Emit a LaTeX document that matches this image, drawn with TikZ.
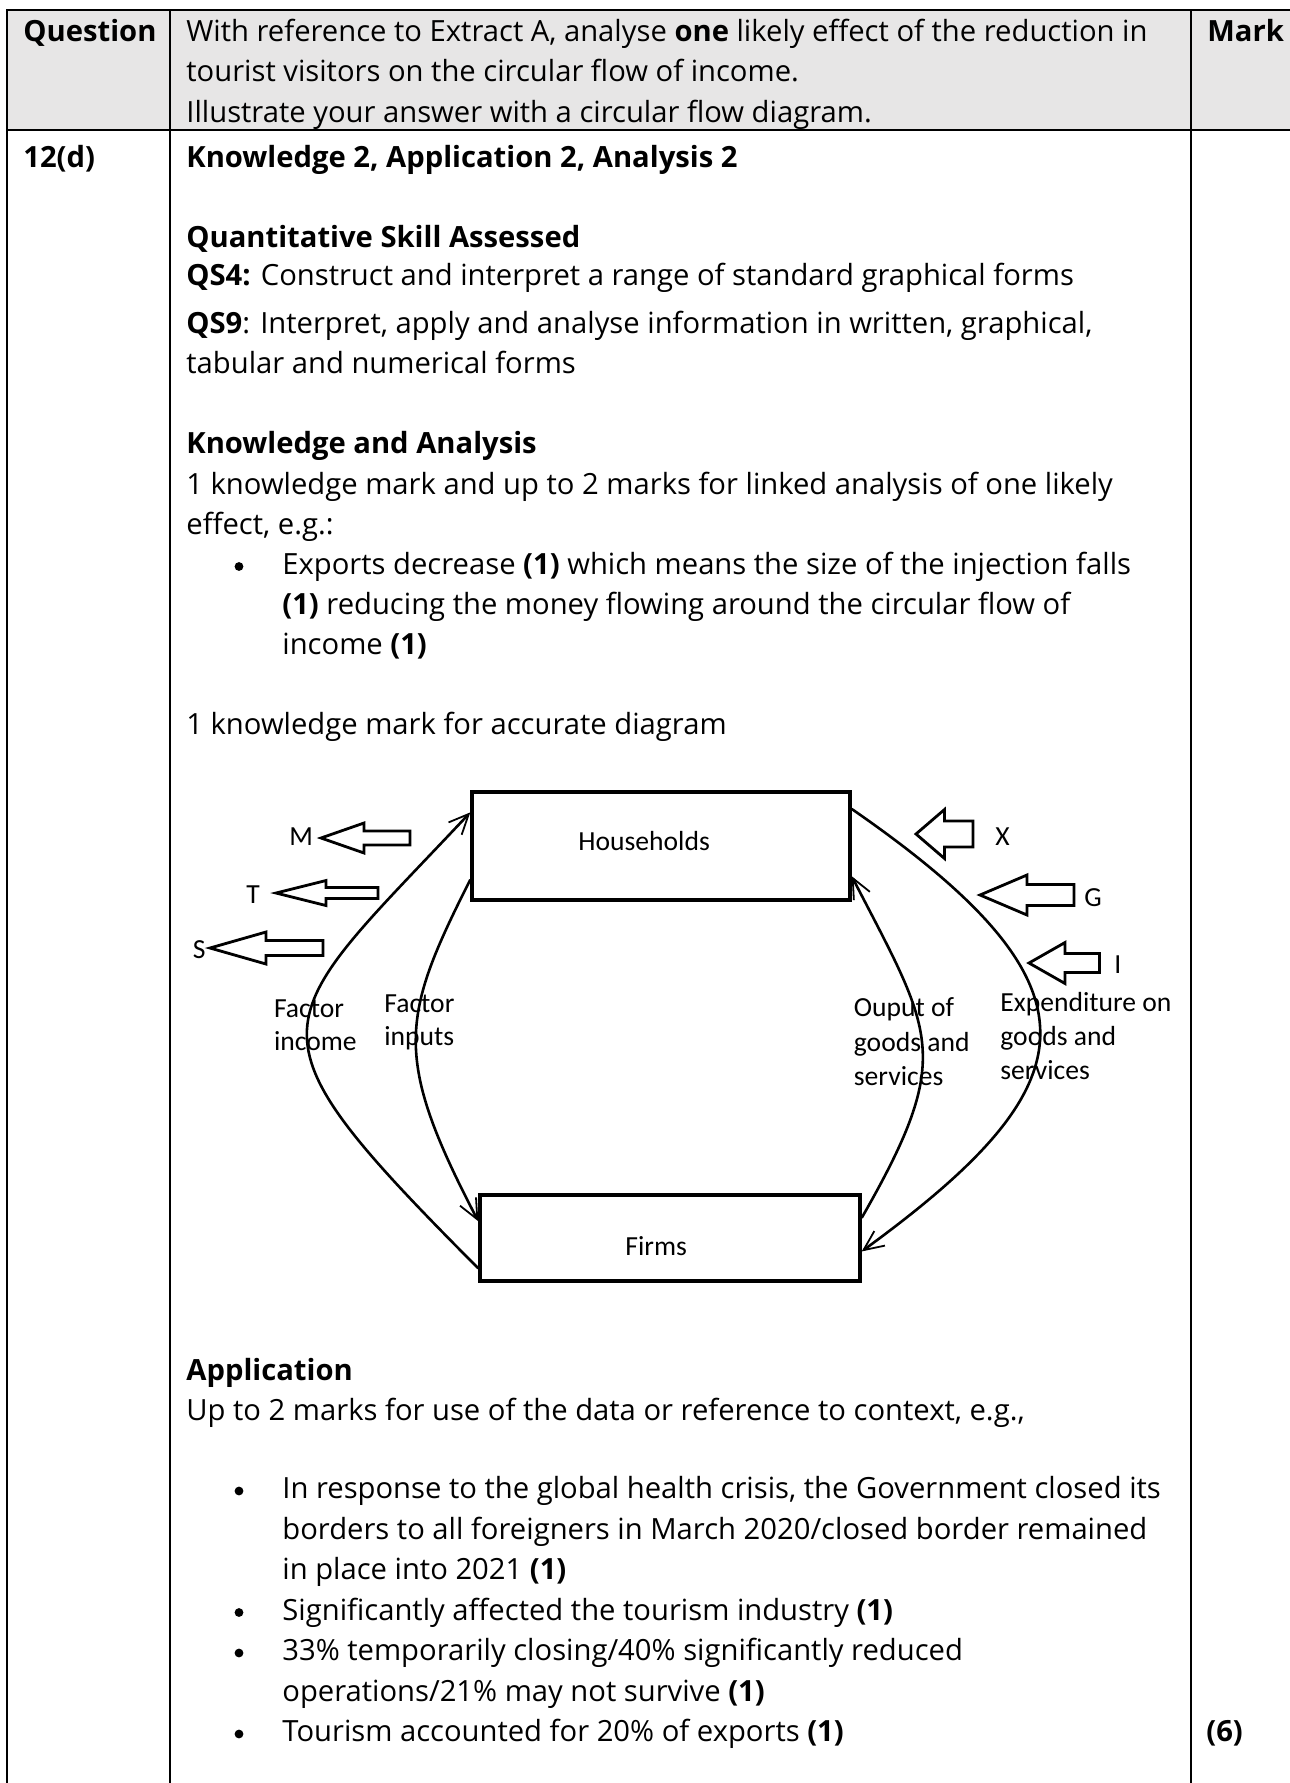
\documentclass[tikz,border=0pt]{standalone}
\usepackage{fontspec}
\setmainfont{Open Sans}
\newfontfamily\diagfont{Carlito}
\usetikzlibrary{arrows.meta}
\definecolor{hdrgray}{RGB}{231,230,230}
\newcommand\bodyfont{\fontsize{14.6}{20.25}\selectfont}
\newcommand\diagsize{\diagfont\fontsize{13.8}{17}\selectfont}

\begin{document}
\begin{tikzpicture}[x=0.5pt, y=-0.5pt,
  txt/.style={anchor=base west, inner sep=0pt, font=\bodyfont},
  lbl/.style={anchor=base west, inner sep=0pt, font=\diagsize},
  dot/.style={fill, circle, inner sep=0pt, minimum size=4.4pt},
  sector/.style={draw, line width=1.7pt, inner sep=0pt},
  flow/.style={line width=1.3pt, -{Straight Barb[length=10pt, width=9pt, line width=0.9pt]}},
  blockarr/.style={draw, line width=1.4pt, fill=white, line join=miter},
  rule/.style={line width=1pt}]
  \useasboundingbox (0,0) rectangle (1290,1783);
  % table frame
  \fill[hdrgray] (7,10) rectangle (1290,130);
  \draw[rule] (7,1783) -- (7,10) -- (1290,10);
  \draw[rule] (7,130) -- (1290,130);
  \draw[rule] (170,10) -- (170,1783);
  \draw[rule] (1191,10) -- (1191,1783);
  % header row
  \node[txt] (qhead) at (23,41) {\textbf{Question}};
  \node[txt] (qline1) at (186,41) {With reference to Extract A, analyse \textbf{one} likely effect of the reduction in};
  \node[txt] (qline2) at (186,81.5) {tourist visitors on the circular flow of income.};
  \node[txt] (qline3) at (186,122) {Illustrate your answer with a circular flow diagram.};
  \node[txt] (mhead) at (1207,41) {\textbf{Mark}};
  % answer row
  \node[txt] (qnum) at (23,167) {\textbf{12(d)}};
  \node[txt] (ka1) at (186,167) {\textbf{Knowledge 2, Application 2, Analysis 2}};
  \node[txt] (ka2) at (186,247) {\textbf{Quantitative Skill Assessed}};
  \node[txt] (ka3) at (186,285) {\textbf{QS4:} Construct and interpret a range of standard graphical forms};
  \node[txt] (ka4) at (186,333) {\textbf{QS9}: Interpret, apply and analyse information in written, graphical,};
  \node[txt] (ka5) at (186,373) {tabular and numerical forms};
  \node[txt] (ka6) at (186,453) {\textbf{Knowledge and Analysis}};
  \node[txt] (ka7) at (186,494) {1 knowledge mark and up to 2 marks for linked analysis of one likely};
  \node[txt] (ka8) at (186,534) {effect, e.g.:};
  \node[dot] (kb1) at (239,566.5) {};
  \node[txt] (ka9) at (282,574) {Exports decrease \textbf{(1)} which means the size of the injection falls};
  \node[txt] (ka10) at (282,614) {\textbf{(1)} reducing the money flowing around the circular flow of};
  \node[txt] (ka11) at (282,654) {income \textbf{(1)}};
  \node[txt] (ka12) at (186,734) {1 knowledge mark for accurate diagram};
  % circular flow diagram
  \node[sector, minimum width=189pt, minimum height=54pt] (hh) at (661,846) {};
  \node[sector, minimum width=190pt, minimum height=43pt] (firms) at (670,1238) {};
  \node[lbl] (hhtext) at (578,850) {Households};
  \node[lbl] (firmstext) at (625,1255) {Firms};
  \draw[flow] (firms.189) .. controls (235,1024) and (268,1028) .. (hh.170);
  \draw[flow] (hh.190) .. controls (401,1017) and (392,1056) .. (firms.175);
  \draw[flow] (firms.6) .. controls (955,1055) and (933,1034) .. (hh.-9);
  \draw[flow] (hh.11) .. controls (1112,989) and (1090,1085) .. (firms.-4);
  \node[lbl] (fincome1) at (273.6,1017) {Factor};
  \node[lbl] (fincome2) at (273.6,1050) {income};
  \node[lbl] (finputs1) at (384,1012) {Factor};
  \node[lbl] (finputs2) at (384,1045) {inputs};
  \node[lbl] (output1) at (853.5,1016.5) {Ouput of};
  \node[lbl] (output2) at (853.5,1051.5) {goods and};
  \node[lbl] (output3) at (853.5,1085) {services};
  \node[lbl] (spend1) at (1000,1011.5) {Expenditure on};
  \node[lbl] (spend2) at (1000,1045) {goods and};
  \node[lbl] (spend3) at (1000,1079) {services};
  % withdrawals
  \draw[blockarr] (321,838) -- (364,823) -- (364,831) -- (410,831) -- (410,845) -- (364,845) -- (364,853) -- cycle;
  \draw[blockarr] (276,893) -- (326,880.5) -- (326,887.5) -- (378,887.5) -- (378,898.5) -- (326,898.5) -- (326,905.5) -- cycle;
  \draw[blockarr] (210,948) -- (266,932) -- (266,940.5) -- (323,940.5) -- (323,955.5) -- (266,955.5) -- (266,964) -- cycle;
  \node[lbl] (mlab) at (289,845) {M};
  \node[lbl] (tlab) at (246,903) {T};
  \node[lbl] (slab) at (192.5,958) {S};
  % injections
  \draw[blockarr] (916,834) -- (944.5,809.5) -- (944.5,821) -- (973,821) -- (973,847) -- (944.5,847) -- (944.5,858.5) -- cycle;
  \draw[blockarr] (980,895) -- (1027,875) -- (1027,884.5) -- (1074,884.5) -- (1074,905.5) -- (1027,905.5) -- (1027,915) -- cycle;
  \draw[blockarr] (1029,963) -- (1065,942.5) -- (1065,953.5) -- (1099.5,953.5) -- (1099.5,972.5) -- (1065,972.5) -- (1065,983.5) -- cycle;
  \node[lbl] (xlab) at (995,845) {X};
  \node[lbl] (glab) at (1084,906.5) {G};
  \node[lbl] (ilab) at (1114,973) {I};
  % application
  \node[txt] (ap1) at (186,1380) {\textbf{Application}};
  \node[txt] (ap2) at (186,1420) {Up to 2 marks for use of the data or reference to context, e.g.,};
  \node[dot] (apb1) at (239,1491) {};
  \node[txt] (ap3) at (282,1498.5) {In response to the global health crisis, the Government closed its};
  \node[txt] (ap4) at (282,1539) {borders to all foreigners in March 2020/closed border remained};
  \node[txt] (ap5) at (282,1579.5) {in place into 2021 \textbf{(1)}};
  \node[dot] (apb2) at (239,1612.5) {};
  \node[txt] (ap6) at (282,1620) {Significantly affected the tourism industry \textbf{(1)}};
  \node[dot] (apb3) at (239,1653) {};
  \node[txt] (ap7) at (282,1660.5) {33\% temporarily closing/40\% significantly reduced};
  \node[txt] (ap8) at (282,1701) {operations/21\% may not survive \textbf{(1)}};
  \node[dot] (apb4) at (239,1734) {};
  \node[txt] (ap9) at (282,1741.5) {Tourism accounted for 20\% of exports \textbf{(1)}};
  \node[txt] (mtotal) at (1206,1741.5) {\textbf{(6)}};
\end{tikzpicture}
\end{document}
